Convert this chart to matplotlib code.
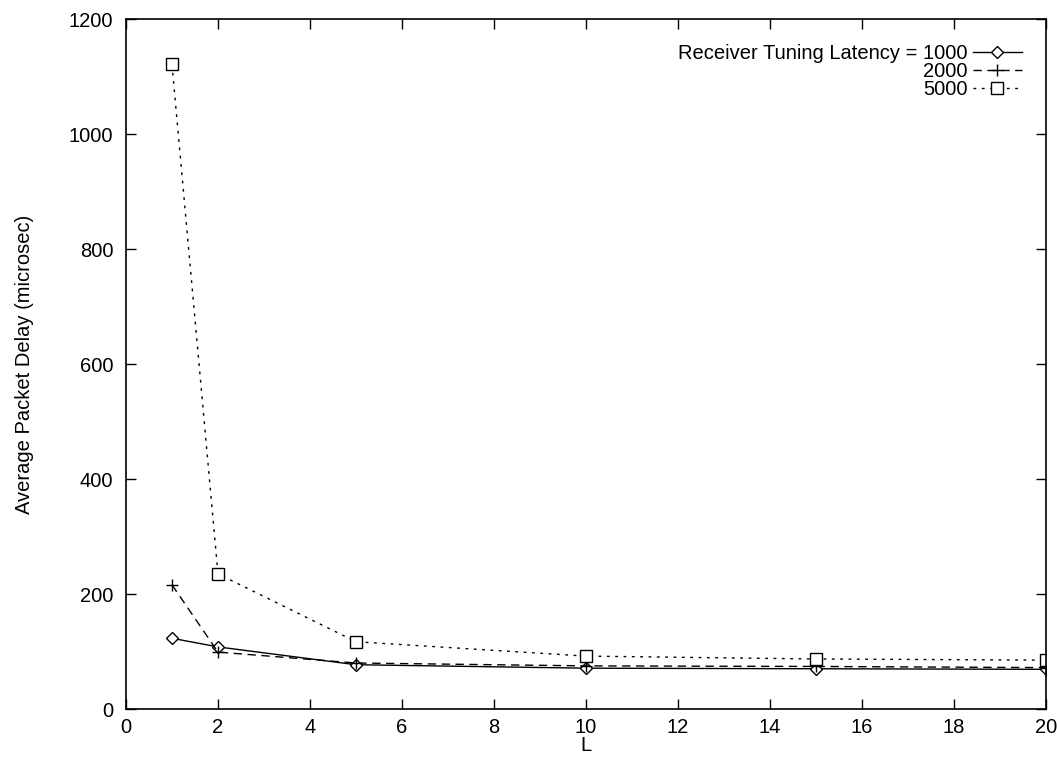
import matplotlib
matplotlib.use("Agg")
import matplotlib.pyplot as plt

plt.rcParams['font.family'] = ['Liberation Sans', 'DejaVu Sans']

L = [1, 2, 5, 10, 15, 20]
delay_1000 = [123, 108, 77, 71, 70, 69]
delay_2000 = [216, 99, 80, 75, 74, 72]
delay_5000 = [1121, 235, 117, 92, 87, 85]
labels = ["Receiver Tuning Latency = 1000", "2000", "5000"]

FS = 14.5

fig = plt.figure(figsize=(10.57, 7.57), dpi=100)
ax = fig.add_axes([0.1192, 0.0634, 0.8703, 0.9115])

ax.plot(L, delay_1000, color='black', lw=1.0, ls='-', marker='D', ms=6,
        mfc='white', mec='black', mew=1.0, label=labels[0])
ax.plot(L, delay_2000, color='black', lw=1.0, ls=(0, (6, 4)), marker='+', ms=8,
        mew=1.0, label=labels[1])
ax.plot(L, delay_5000, color='black', lw=1.0, ls=(0, (2, 4)), marker='s', ms=8,
        mfc='white', mec='black', mew=1.0, label=labels[2])

ax.set_xlim(0, 20)
ax.set_ylim(0, 1200)
ax.set_xticks(range(0, 21, 2))
ax.set_yticks(range(0, 1201, 200))
ax.tick_params(direction='in', length=7, width=1, top=True, right=True,
               labelsize=FS)
ax.tick_params(axis='x', pad=6.5)
ax.tick_params(axis='y', pad=9)
for s in ax.spines.values():
    s.set_linewidth(1.2)

ax.set_xlabel("L", fontsize=FS, labelpad=-0.5)
ax.set_ylabel("Average Packet Delay (microsec)", fontsize=FS)
ax.yaxis.set_label_coords(-0.100, 0.5)

leg = ax.legend(loc='upper right', bbox_to_anchor=(0.974, 0.964),
                frameon=False, markerfirst=False, fontsize=FS,
                handlelength=2.45, handletextpad=0.25,
                labelspacing=-0.05, borderpad=0, borderaxespad=0)

fig.savefig("out.png", dpi=100)
